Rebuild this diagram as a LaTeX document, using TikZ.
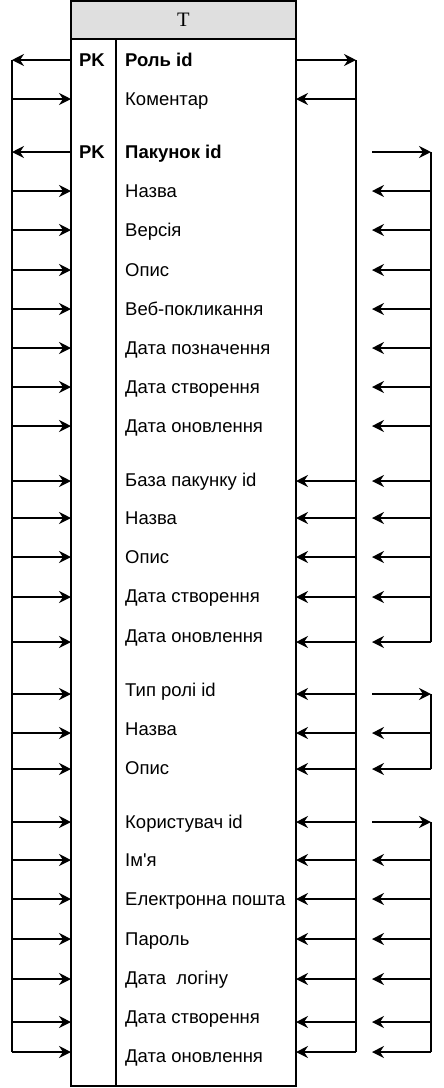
\documentclass[tikz,border=0pt]{standalone}
\usepackage{fontspec}
\newfontfamily\fieldfont{Liberation Sans}
\newfontfamily\headfont{Liberation Serif}
\usetikzlibrary{arrows.meta,positioning}
\tikzset{
  field/.style={anchor=base west, inner sep=0pt, font=\fieldfont\fontsize{18.5}{22}\selectfont},
  pkey/.style={anchor=base, inner sep=0pt, font=\fieldfont\bfseries\fontsize{18.5}{22}\selectfont},
  link/.style={line width=1.5pt, -{Stealth[length=12pt, width=12pt, inset=4pt]}},
  bus/.style={line width=1.5pt},
}
\begin{document}
\begin{tikzpicture}[x=1pt, y=-1pt]
\useasboundingbox (0,0) rectangle (444,1088);

% table T
\draw[line width=1.5pt, fill=gray!25] (71,1) rectangle (296,39);
\node[font=\headfont\fontsize{20.5}{24}\selectfont] (title) at (183.5,20) {T};
\draw[line width=1.5pt] (71,39) rectangle (296,1086);
\draw[line width=1.5pt] (116,39) -- (116,1086);

% columns of the buses
\coordinate (tl) at (71,0);
\coordinate (tr) at (296,0);
\coordinate (lb) at (12,0);
\coordinate (ra) at (356,0);
\coordinate (rb) at (431,0);
\coordinate (rs) at (372,0);

% rows: number / text y / arrow y / label
\foreach \i/\ty/\ay/\lbl in {
  1/60/60/{\textbf{Роль id}}, 2/99/99/{Коментар},
  3/152/152/{\textbf{Пакунок id}}, 4/191/191/{Назва}, 5/230/230/{Версія},
  6/270/270/{Опис}, 7/309/309/{Веб-покликання}, 8/348/348/{Дата позначення},
  9/387/387/{Дата створення}, 10/426/426/{Дата оновлення},
  11/480/481/{База пакунку id}, 12/518/518/{Назва}, 13/557/557/{Опис},
  14/596/597/{Дата створення}, 15/636/642/{Дата оновлення},
  16/690/694/{Тип ролі id}, 17/729/733/{Назва}, 18/768/769/{Опис},
  19/822/822/{Користувач id}, 20/860/860/{Ім'я}, 21/899/899/{Електронна пошта},
  22/939/939/{Пароль}, 23/978/979/{Дата~ логіну}, 24/1017/1022/{Дата створення},
  25/1056/1052/{Дата оновлення}}{
  \node[field] (f\i) at (125,\ty+6.5) {\lbl};
  \coordinate (a\i) at (0,\ay);
}
\node[pkey] (pk1) at (92,66.5) {PK};
\node[pkey] (pk3) at (92,158.5) {PK};

% left bus
\draw[bus] (lb |- a1) -- (lb |- a25);
\foreach \i in {1,3}
  \draw[link] (tl |- a\i) -- (lb |- a\i);
\foreach \i in {2,4,5,...,25}
  \draw[link] (lb |- a\i) -- (tl |- a\i);

% right bus
\draw[bus] (ra |- a1) -- (ra |- a25);
\draw[link] (tr |- a1) -- (ra |- a1);
\foreach \i in {2,11,12,...,25}
  \draw[link] (ra |- a\i) -- (tr |- a\i);

% outer bus, three pieces
\draw[bus] (rb |- a3) -- (rb |- a15);
\draw[bus] (rb |- a16) -- (rb |- a18);
\draw[bus] (rb |- a19) -- (rb |- a25);
\foreach \i in {3,16,19}
  \draw[link] (rs |- a\i) -- (rb |- a\i);
\foreach \i in {4,5,...,15,17,18,20,21,...,25}
  \draw[link] (rb |- a\i) -- (rs |- a\i);
\end{tikzpicture}
\end{document}
